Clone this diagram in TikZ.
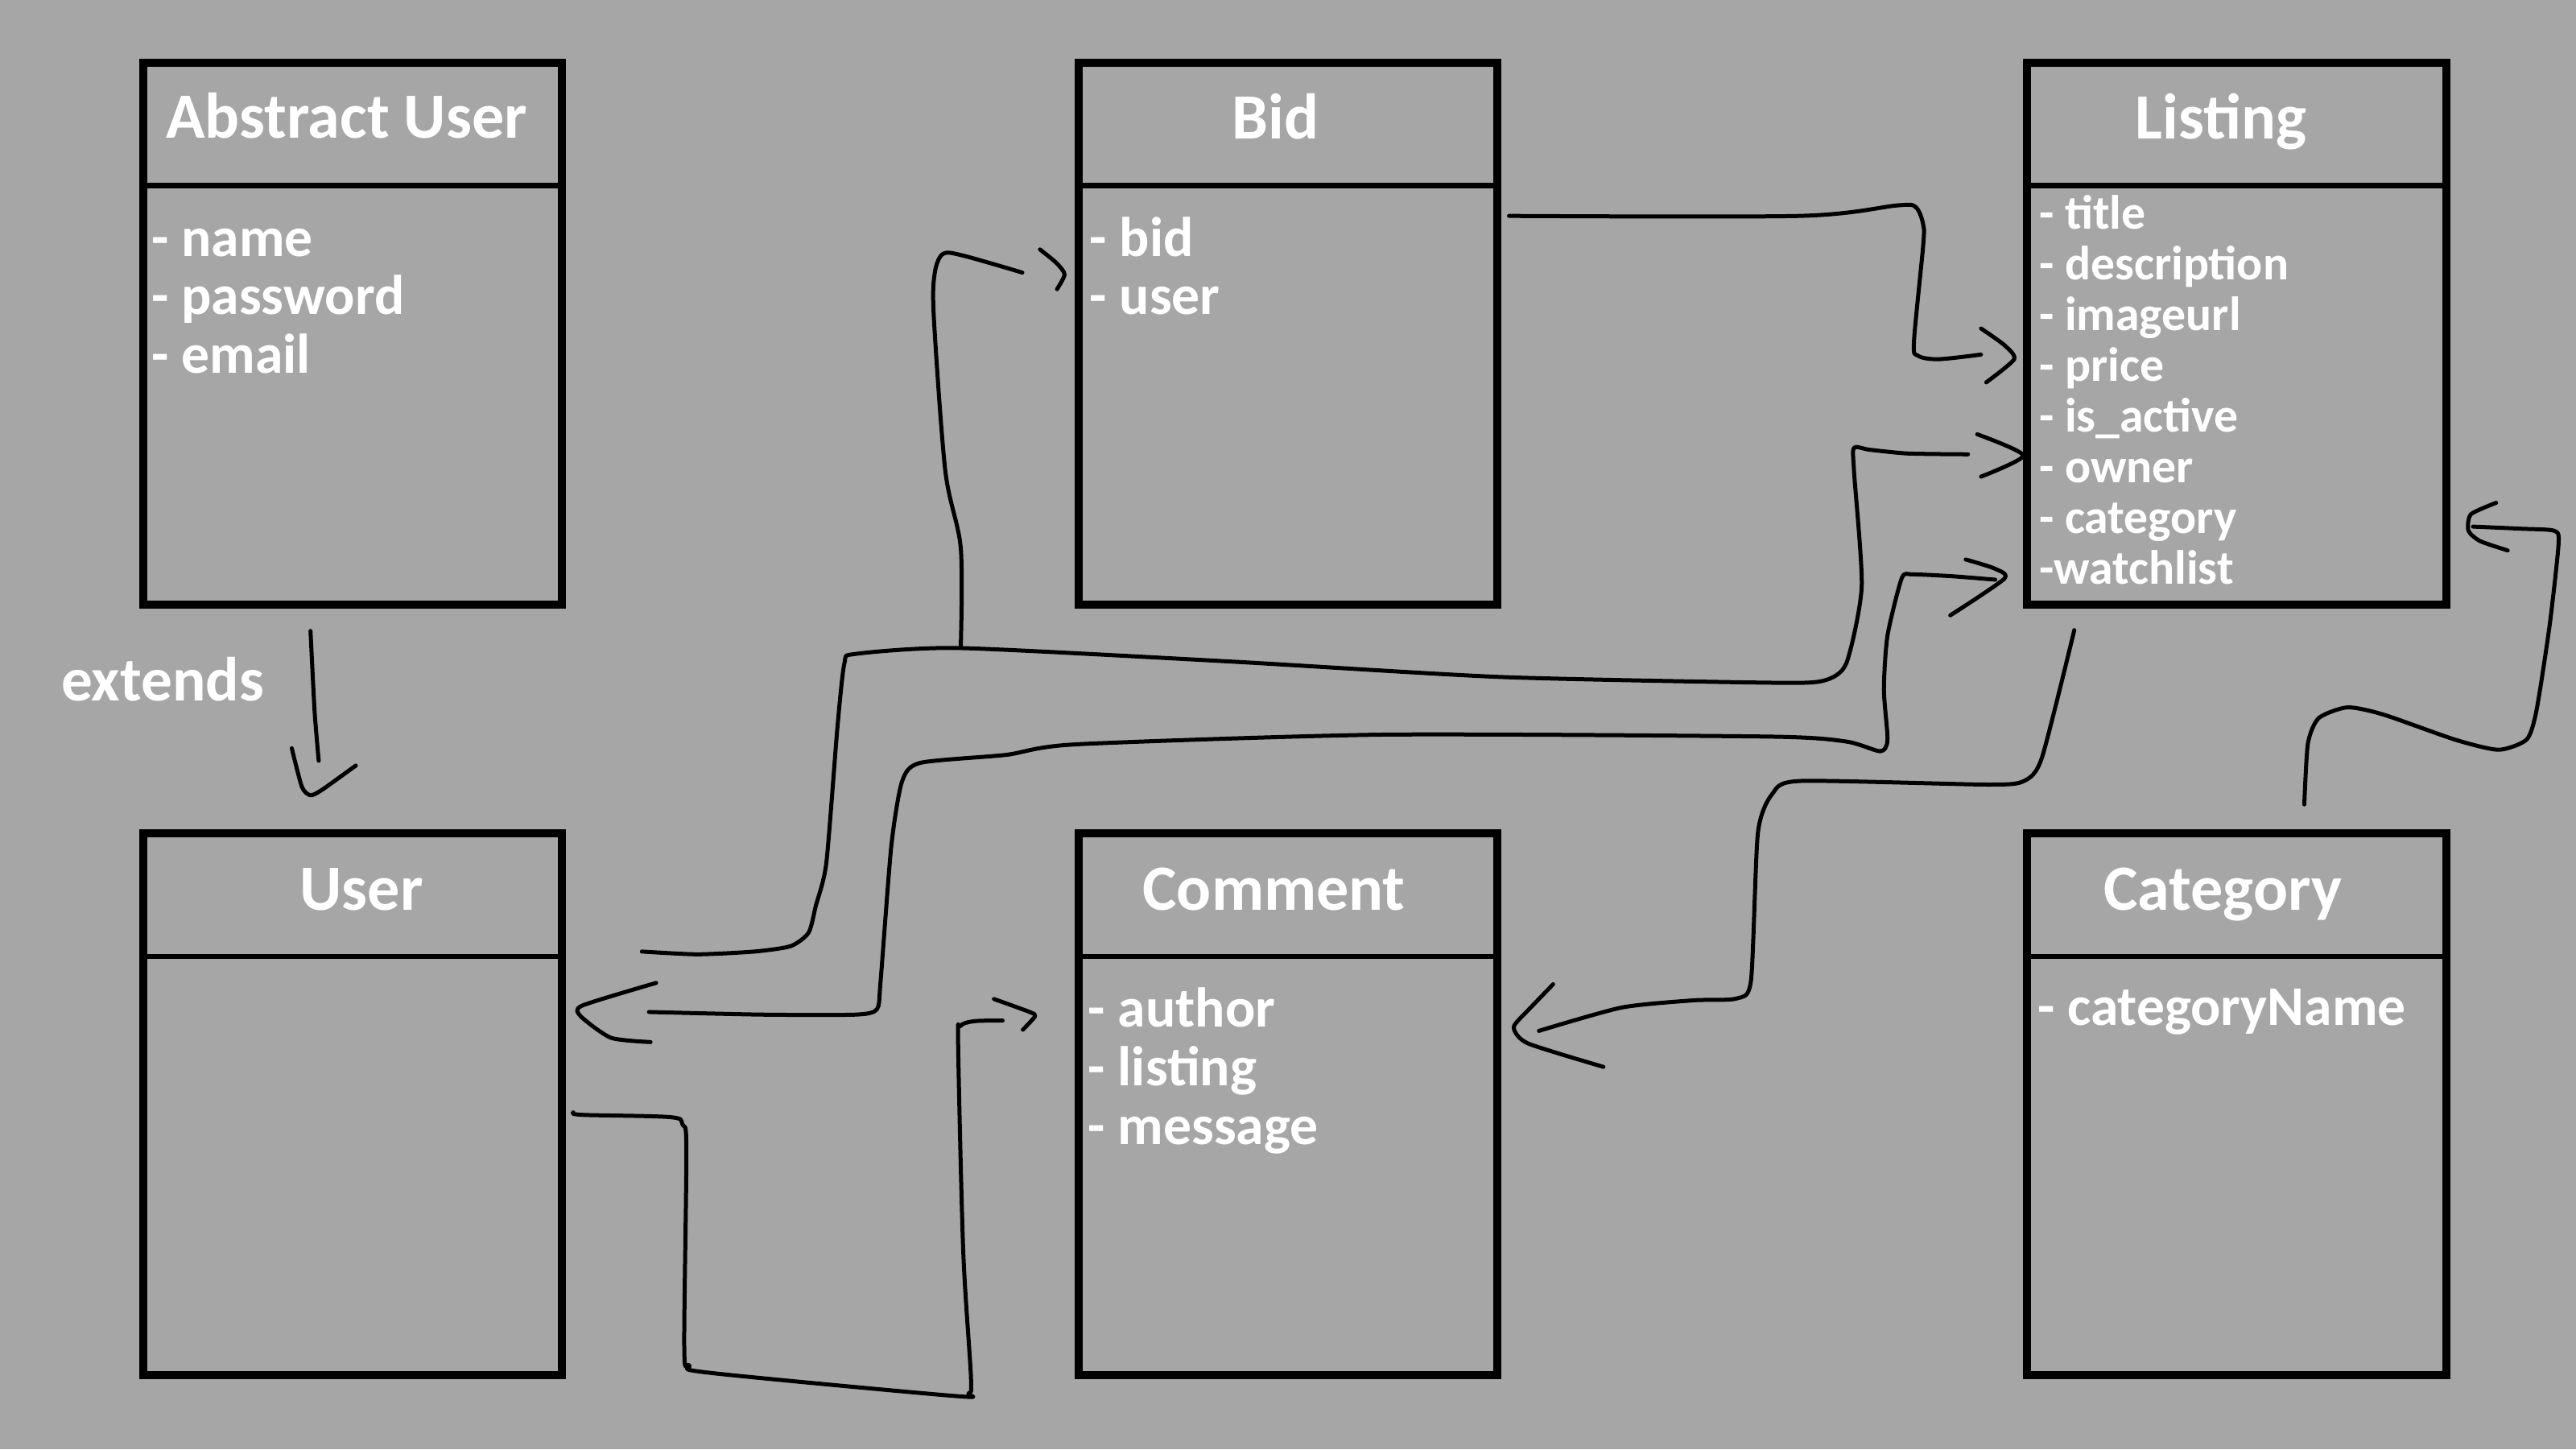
\documentclass[tikz,border=0pt]{standalone}
\usepackage{fontspec}
\setmainfont{Carlito}
\usetikzlibrary{positioning}
\definecolor{slidegray}{HTML}{A6A6A6}

\begin{document}
\begin{tikzpicture}[x=0.20408mm, y=-0.20408mm,
  classbox/.style={draw, line width=1mm, minimum width=52.04mm, minimum height=67.35mm, inner sep=0pt, outer sep=0pt},
  divider/.style={line width=0.65mm},
  classname/.style={text=white, anchor=base, inner sep=0pt, font=\bfseries\fontsize{22.8}{24}\selectfont},
  field/.style={text=white, anchor=base west, inner sep=0pt, font=\bfseries\fontsize{19.8}{21}\selectfont},
  smallfield/.style={field, font=\bfseries\fontsize{17}{18}\selectfont},
  link/.style={line width=0.5mm, line cap=round, line join=round}]

\fill[slidegray] (0,0) rectangle (1568,882);

% classes
\node[classbox] (abstractuser) at (214.5,203) {};
\node[classbox] (bid) at (784,203) {};
\node[classbox] (listing) at (1361.5,203) {};
\node[classbox] (user) at (214.5,672) {};
\node[classbox] (comment) at (784,672) {};
\node[classbox] (category) at (1361.5,672) {};
\foreach \b in {abstractuser,bid,listing,user,comment,category}
  \draw[divider] ([yshift=-15.31mm]\b.north west) -- ([yshift=-15.31mm]\b.north east);

\node[classname] (abstractuser-name) at (211,84) {Abstract User};
\node[classname] (bid-name) at (776.5,84.5) {Bid};
\node[classname] (listing-name) at (1352,84.5) {Listing};
\node[classname] (user-name) at (220,554) {User};
\node[classname] (comment-name) at (775.5,554) {Comment};
\node[classname] (category-name) at (1353,554) {Category};

% fields
\foreach \f [count=\i] in {- name, - password, - email}
  \node[field] (abstractuser-\i) at (92,156+35.5*\i-35.5) {\f};
\foreach \f [count=\i] in {- bid, - user}
  \node[field] (bid-\i) at (663,156+35.5*\i-35.5) {\f};
\foreach \f [count=\i] in {- title, - description, - imageurl, - price, - is\_active, - owner, - category, -watchlist}
  \node[smallfield] (listing-\i) at (1241,139.3+30.9*\i-30.9) {\f};
\foreach \f [count=\i] in {- author, - listing, - message}
  \node[field] (comment-\i) at (662,625+35.7*\i-35.7) {\f};
\node[field] (category-1) at (1240,624) {- categoryName};

\node[classname, anchor=base west, font=\bfseries\fontsize{22}{24}\selectfont] (extends) at (37,426.6) {extends};

% connector ends
\coordinate (au-out) at (189,384);
\coordinate (user-in) at (194,463);
\coordinate (user-out1) at (390.7,579.1);
\coordinate (bid-in) at (622.3,165.9);
\coordinate (listing-in1) at (1197.9,276.5);
\coordinate (user-in2) at (395,615.9);
\coordinate (listing-in2) at (1214.5,352.8);
\coordinate (user-out2) at (349,677);
\coordinate (comment-in1) at (610.3,621.1);
\coordinate (bid-out) at (918.5,131.4);
\coordinate (listing-in3) at (1205.8,215.8);
\coordinate (listing-out) at (1262.6,383.5);
\coordinate (comment-in2) at (936.7,627.4);
\coordinate (category-out) at (1402.6,489.6);
\coordinate (listing-in4) at (1505.3,320.5);

% extends
\draw[link] plot[smooth, tension=0.4] coordinates {(au-out) (191.5,433) (user-in)};
\draw[link] plot[smooth, tension=0.4] coordinates {(177.6,455.4) (183.8,479) (189,484) (196,480.7) (216.6,465.9)};

% user -> bid, listing
\draw[link] plot[smooth, tension=0.4] coordinates {(user-out1) (424.4,580.8) (459.4,579.1) (481.3,575.8) (492.2,567.6) (496.6,551.2) (503,525) (509.7,443) (514,403.6) (520.6,398) (584,394.4) (748.9,402.6) (912.9,412) (1077,415.5) (1109.8,414.3) (1123.8,403.8) (1133.2,356.9) (1128.5,286.6) (1128.5,272.5) (1137.9,273.7) (1161.3,276) (listing-in1)};
\draw[link] plot[smooth, tension=0.5] coordinates {(584.8,394.4) (584.8,333.5) (575.4,286.6) (568.4,192.8) (569,166) (574,154.5) (586,155.5) (bid-in)};
\draw[link] plot[smooth, tension=0.4] coordinates {(633,151.8) (643,160) (648,167) (643.4,176)};
\draw[link] plot[smooth, tension=0.4] coordinates {(1203.5,264.3) (1231.6,277.2) (1205.8,290.1)};

% user <-> listing
\draw[link] plot[smooth, tension=0.4] coordinates {(user-in2) (463.8,617.5) (520.6,617.5) (533.8,614.2) (536,597.2) (542.5,515.1) (549,475.8) (560,464.3) (612.5,459.4) (655.1,453) (842.6,447.1) (1077,448.3) (1123.8,451.3) (1144.5,457.2) (1148.9,450.2) (1146.7,419.6) (1148.9,386.8) (1157.6,351.8) (1164.2,349.6) (1188.3,350.7) (listing-in2)};
\draw[link] plot[smooth, tension=0.4] coordinates {(399.4,598.2) (354.4,612) (353.5,618.5) (371.9,631.6) (396,634.2)};
\draw[link] plot[smooth, tension=0.4] coordinates {(1196.5,340.5) (1214,346) (1220,352.2) (1187.1,374.5)};

% user -> comment
\draw[link] plot[smooth, tension=0.5] coordinates {(user-out2) (354.4,678.5) (408,679.9) (415.5,684.5) (417.8,700) (416.5,820) (419.5,831) (432,835.5) (580,849.5) (589.5,848) (591,838) (586.3,761.2) (583.2,635) (584.5,624.5) (593,621.5) (comment-in1)};
\draw[link] plot[smooth, tension=0.4] coordinates {(605,608) (627,616) (630,618.5) (622.6,626.7)};

% bid -> listing
\draw[link] plot[smooth, tension=0.5] coordinates {(bid-out) (1095.7,131.4) (1155,125) (1166,126) (1170.5,136) (1170.7,148.3) (1165,208) (1167.5,216.5) (1180,218.6) (listing-in3)};
\draw[link] plot[smooth, tension=0.4] coordinates {(1205.8,199.9) (1220,210) (1226,218.6) (1209,232.7)};

% listing -> comment
\draw[link] plot[smooth, tension=0.4] coordinates {(listing-out) (1242.9,461.1) (1232,475.3) (1210,477.5) (1096,475.3) (1078.9,483) (1070,507) (1065.8,596.8) (1057,607.7) (1030.8,608.8) (987,613.2) (comment-in2)};
\draw[link] plot[smooth, tension=0.4] coordinates {(945.4,599) (930,615) (921.4,625.2) (930,635) (976,649.3)};

% category -> listing
\draw[link] plot[smooth, tension=0.4] coordinates {(category-out) (1404.8,452.4) (1411.4,437) (1428.9,430.5) (1450.8,434.9) (1494.5,450.2) (1520.8,456.3) (1538,450) (1544,432) (1552,380) (1557.4,330.5) (1554.6,323) (1535,321.8) (listing-in4)};
\draw[link] plot[smooth, tension=0.4] coordinates {(1519.4,306) (1504,313) (1502.5,323) (1509.6,329.3) (1526.4,335)};

\end{tikzpicture}
\end{document}
